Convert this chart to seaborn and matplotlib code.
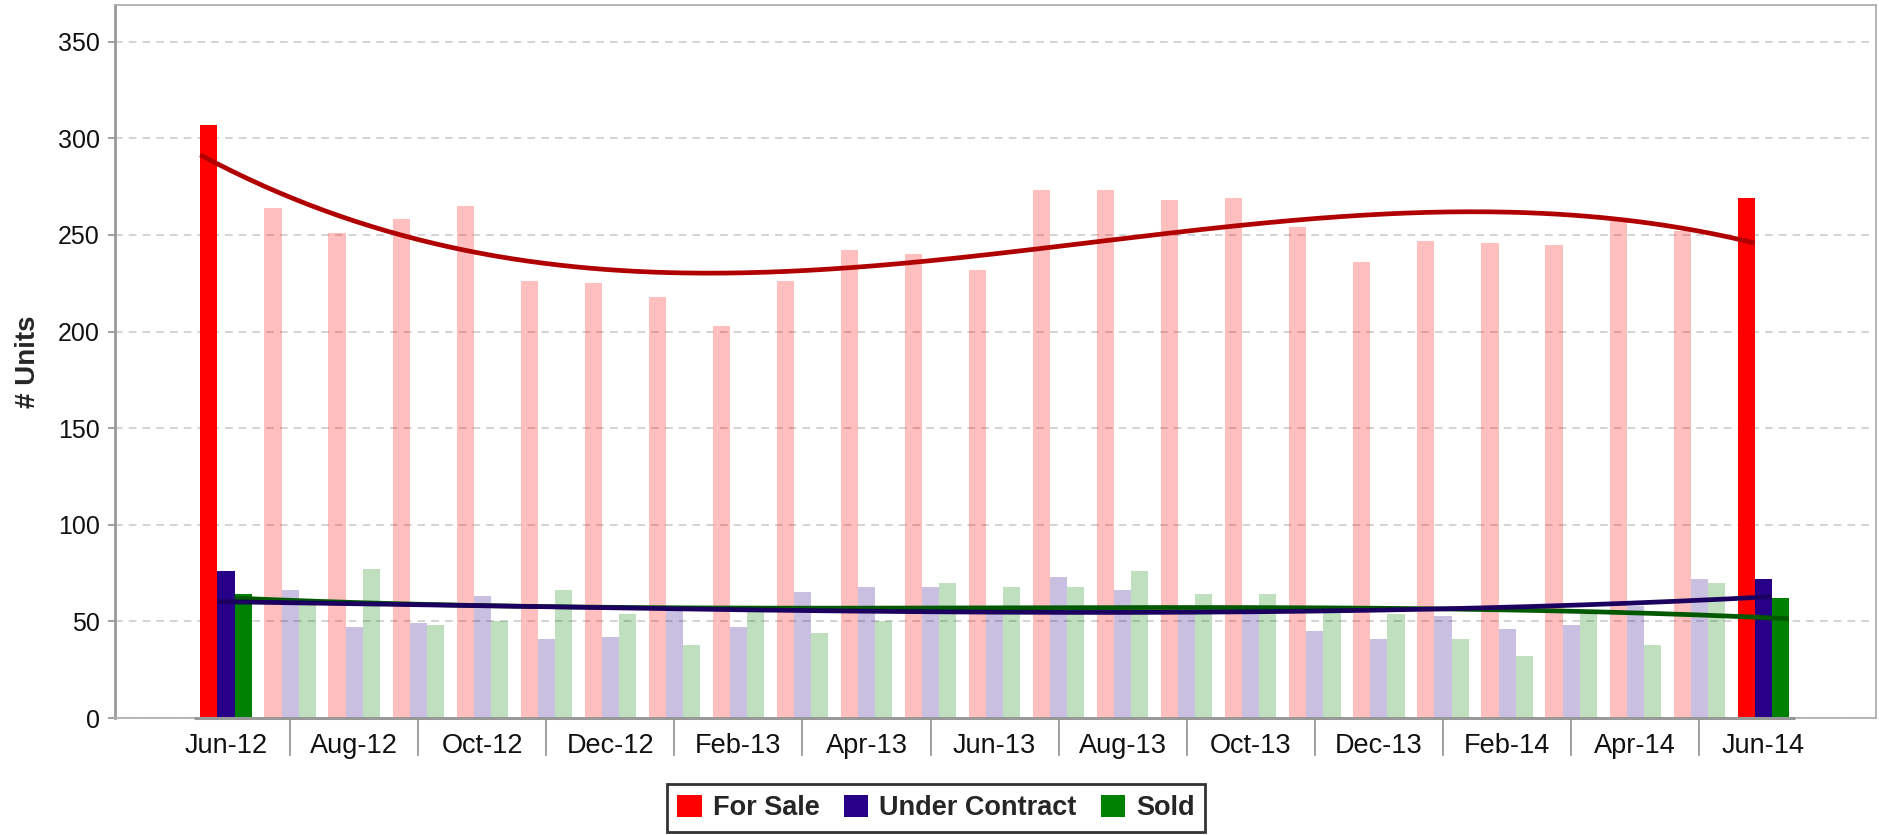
import numpy as np
import pandas as pd
import matplotlib
matplotlib.use("Agg")
import matplotlib.pyplot as plt
from matplotlib.patches import Patch
import seaborn as sns

# ── data ──
months = ["Jun-12", "Jul-12", "Aug-12", "Sep-12", "Oct-12", "Nov-12", "Dec-12",
          "Jan-13", "Feb-13", "Mar-13", "Apr-13", "May-13", "Jun-13", "Jul-13",
          "Aug-13", "Sep-13", "Oct-13", "Nov-13", "Dec-13", "Jan-14", "Feb-14",
          "Mar-14", "Apr-14", "May-14", "Jun-14"]
for_sale = [307, 264, 251, 258, 265, 226, 225, 218, 203, 226, 242, 240, 232,
            273, 273, 268, 269, 254, 236, 247, 246, 245, 257, 252, 269]
under_contract = [76, 66, 47, 49, 63, 41, 42, 56, 47, 65, 68, 68, 56,
                  73, 66, 56, 56, 45, 41, 53, 46, 48, 58, 72, 72]
sold = [64, 60, 77, 48, 50, 66, 54, 38, 55, 44, 50, 70, 68,
        68, 76, 64, 64, 56, 54, 41, 32, 54, 38, 70, 62]

series_names = ["For Sale", "Under Contract", "Sold"]
bar_colors = ["#FF0000", "#280088", "#008000"]
trend_colors = ["#B00000", "#1C0060", "#005800"]

df = pd.DataFrame({
    "month": months * 3,
    "series": np.repeat(series_names, len(months)),
    "units": for_sale + under_contract + sold,
})

# ── style ──
sns.set_theme(style="white")
plt.rcParams["font.family"] = ["Liberation Sans", "DejaVu Sans"]

W, H = 1879, 835
fig = plt.figure(figsize=(W / 100, H / 100), dpi=100)
ax = fig.add_axes([115 / W, 1 - 718 / H, (1876 - 115) / W, (718 - 5) / H])

group_w = 0.8
sns.barplot(data=df, x="month", y="units", hue="series", hue_order=series_names,
            palette=bar_colors, width=group_w, saturation=1, errorbar=None,
            legend=False, ax=ax, zorder=2)

# only first and last month are drawn in full colour
n = len(months)
for cont in ax.containers:
    for i, bar in enumerate(cont):
        bar.set_linewidth(0)
        if 0 < i < n - 1:
            bar.set_alpha(0.25)

# cubic trend lines over each series
bw = group_w / 3
idx = np.arange(n)
t = np.linspace(0, n - 1, 300)
order = [0, 2, 1]  # navy line on top of green
all_vals = [for_sale, under_contract, sold]
for k in order:
    coef = np.polyfit(idx, all_vals[k], 3)
    off = (k - 1) * bw
    x = off - bw / 2 + t * (n - 1 + bw) / (n - 1)
    ax.plot(x, np.polyval(coef, t), color=trend_colors[k], lw=3.4,
            solid_capstyle="butt", zorder=4)

# axes
ax.set_xlim(-1.733, 25.76)
ax.set_ylim(0, 369)
ax.set_yticks(range(0, 351, 50))
ax.set_xticks(range(0, n, 2))
ax.set_xticklabels(months[::2])
ax.set_xticks(range(1, n, 2), minor=True)
ax.tick_params(axis="x", which="major", length=0, pad=11, labelsize=19.5, colors="#111111")
ax.tick_params(axis="x", which="minor", length=27, width=1.3, color="#999999", bottom=True)
ax.tick_params(axis="y", length=5, width=1.3, color="#999999", pad=6,
               labelsize=18, labelcolor="#111111", left=True)
ax.set_xlabel("")
ax.set_ylabel("# Units", fontsize=20, fontweight="bold", labelpad=12)

ax.yaxis.grid(True, color="#C8C8C8", linestyle=(0, (5, 4)), linewidth=1.1, zorder=0)
ax.set_axisbelow(True)

for side in ["top", "right", "bottom"]:
    ax.spines[side].set_color("#B0B0B0")
    ax.spines[side].set_linewidth(1.3)
ax.spines["left"].set_color("#999999")
ax.spines["left"].set_linewidth(2)
ax.hlines(0, -0.5, n - 0.5, color="#999999", lw=2.2, zorder=3, clip_on=False)

# legend
handles = [Patch(facecolor=c, edgecolor="none") for c in bar_colors]
leg = fig.legend(handles, series_names, loc="center", ncol=3,
                 bbox_to_anchor=(936 / W, 1 - 808 / H),
                 frameon=True, fancybox=False, edgecolor="black",
                 prop={"weight": "bold", "size": 19.5},
                 handlelength=0.9, handleheight=0.9, handletextpad=0.4,
                 columnspacing=0.9, borderpad=0.4, borderaxespad=0)
leg.get_frame().set_linewidth(2)

fig.savefig("out.png", dpi=100)
plt.close(fig)
